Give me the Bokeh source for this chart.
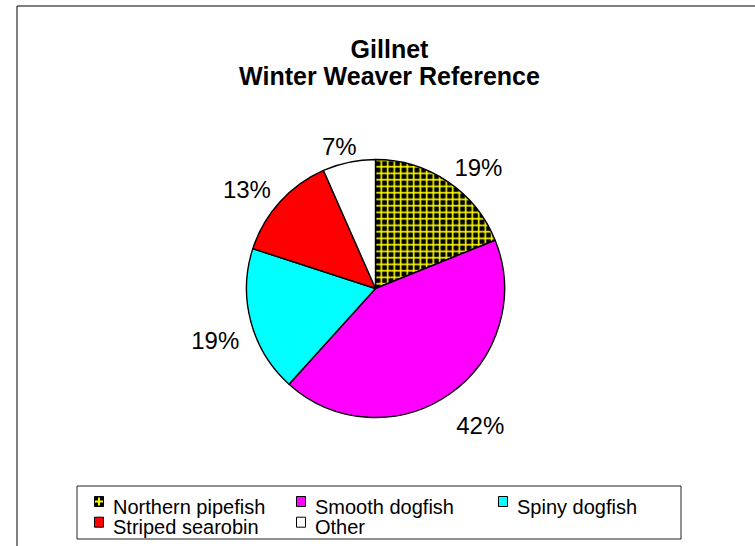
import math
from bokeh.plotting import figure
from bokeh.models import Range1d, ColumnDataSource
from bokeh.embed import file_html
from bokeh.resources import INLINE
from bokeh.core.properties import value

# ---- data ----
categories = ["Northern pipefish", "Smooth dogfish", "Spiny dogfish", "Striped searobin", "Other"]
percent = [18.9, 42.8, 18.3, 13.4, 6.6]
labels = ["19%", "42%", "19%", "13%", "7%"]
colors = ["#000000", "#FF00FF", "#00FFFF", "#FF0000", "#FFFFFF"]
hatches = ["cross", " ", " ", " ", " "]
title_lines = ["Gillnet", "Winter Weaver Reference"]

FONT = "Liberation Sans"
W, H = 755, 546

p = figure(width=W, height=H, x_range=Range1d(0, W), y_range=Range1d(0, H),
           output_backend="svg", toolbar_location=None, min_border=0)
p.axis.visible = False
p.grid.visible = False
p.outline_line_color = None
p.background_fill_color = "white"
p.border_fill_color = "white"

# outer chart border (only left and top are visible)
p.quad(left=16.5, right=W + 20, top=540.5, bottom=-20,
       fill_color=None, line_color="#000000", line_width=1)

# title
p.text(x=[389, 389], y=[497.5, 471], text=title_lines,
       text_font=value(FONT), text_font_size="25px", text_font_style="bold",
       text_align="center", text_baseline="alphabetic", text_color="black")

# pie
cx, cy, R = 375, 258, 129
total = sum(percent)
cum = [0.0]
for v in percent:
    cum.append(cum[-1] + v)
start_cw = [2 * math.pi * c / total for c in cum[:-1]]
end_cw = [2 * math.pi * c / total for c in cum[1:]]
src = ColumnDataSource(dict(
    start=[math.pi / 2 - e for e in end_cw],
    end=[math.pi / 2 - s for s in start_cw],
    color=colors, hatch=hatches, cat=categories))
p.wedge(x=cx, y=cy, radius=R, start_angle="start", end_angle="end",
        direction="anticlock", fill_color="color", line_color="black",
        line_width=1.4, hatch_pattern="hatch", hatch_color="#FFFF00",
        hatch_weight=1.6, hatch_scale=6.5, source=src)

# percentage labels outside the pie (box placed outward from an anchor point)
fs = 24
Ra = R + 12
hh = 13
lx, ly = [], []
for s, e, lab in zip(start_cw, end_cw, labels):
    m = (s + e) / 2
    sx, sy = math.sin(m), math.cos(m)
    hw = (0.556 * (len(lab) - 1) + 0.889) * fs / 2
    ax, ay = cx + Ra * sx, cy + Ra * sy
    lx.append(ax + hw * max(-1, min(1, 2 * sx)))
    ly.append(ay + hh * max(-1, min(1, 2 * sy)) - 8.6)
p.text(x=lx, y=ly, text=labels, text_font=value(FONT), text_font_size=f"{fs}px",
       text_align="center", text_baseline="alphabetic", text_color="black")

# legend box
p.quad(left=76.5, right=680.5, top=60.5, bottom=7.5,
       fill_color="white", line_color="#222222", line_width=1)

sw_x, sw_y, tx_x, tx_y = [], [], [], []
for i in range(len(categories)):
    col, row = i % 3, i // 3
    left = 94 + col * 202
    base = 40 - row * 20.7
    sw_x.append(left + 4.5)
    sw_y.append(base + 5)
    tx_x.append(left + 18.5)
    tx_y.append(base)
leg = ColumnDataSource(dict(x=sw_x, y=sw_y, tx=tx_x, ty=tx_y, color=colors,
                            hatch=hatches, cat=categories))
p.rect(x="x", y="y", width=9, height=10, fill_color="color", line_color="black",
       line_width=1, source=leg)
hx = [x for x, h in zip(sw_x, hatches) if h.strip()]
hy = [y for y, h in zip(sw_y, hatches) if h.strip()]
p.scatter(x=hx, y=hy, marker="cross", size=8, line_color="#FFFF00", line_width=2)
p.text(x="tx", y="ty", text="cat", text_font=value(FONT), text_font_size="20px",
       text_align="left", text_baseline="alphabetic", text_color="black", source=leg)

open("out.html", "w").write(file_html(p, INLINE))
